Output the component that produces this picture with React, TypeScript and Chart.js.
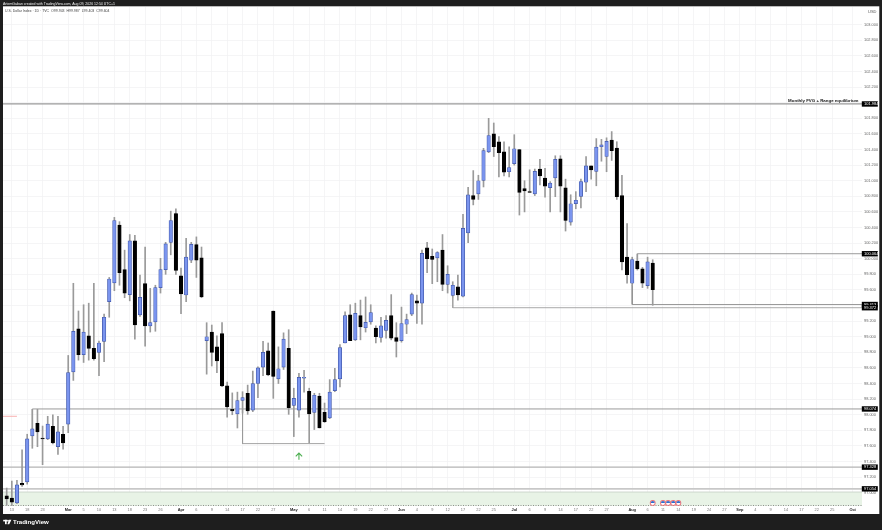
import React, { useEffect, useRef } from "react";
import { Chart, registerables } from "chart.js";

Chart.register(...registerables);

const open = [96.96,96.93,96.87,97.12,97.14,97.73,97.89,97.70,97.69,97.85,97.59,97.75,97.88,98.55,99.10,98.77,99.01,98.85,98.80,98.94,99.45,99.69,100.43,99.86,99.54,100.23,99.28,99.68,99.14,99.19,99.63,99.86,100.21,100.58,99.78,99.535,99.98,100.18,100.01,98.95,99.06,98.87,99.04,98.37,98.07,98.01,98.185,98.275,98.06,98.40,98.61,98.82,99.33,98.46,98.61,98.85,98.12,98.06,98.47,98.30,98.03,98.24,98.03,97.96,98.31,98.46,98.92,99.28,98.96,99.27,99.115,99.19,99.11,98.99,99.08,99.27,98.99,98.95,99.16,99.29,99.46,99.43,100.14,100.03,100.01,100.11,99.67,99.53,99.64,99.52,100.33,100.81,100.83,101.005,101.37,101.60,101.50,101.37,101.115,101.22,101.40,100.90,100.86,100.83,101.15,101.035,100.91,101.035,101.28,100.91,100.47,100.705,100.80,100.98,101.19,101.12,101.435,101.31,101.52,101.42,100.81,100.02,99.685,99.97,99.87,99.655,99.943];
const high = [97.06,97.15,97.16,97.55,97.75,98.07,98.07,97.855,97.98,98.00,97.98,97.85,98.76,99.685,99.33,99.41,99.43,99.685,98.945,99.29,99.76,100.53,100.475,100.11,100.31,100.30,99.79,100.15,99.62,99.66,100.005,100.21,100.61,100.64,99.88,100.26,100.21,100.28,100.15,99.18,99.15,99.01,99.18,98.42,98.28,98.29,98.295,98.38,98.56,98.615,98.94,98.92,99.33,98.87,99.05,99.09,98.34,98.53,98.57,98.34,98.275,98.275,98.15,98.45,98.595,98.90,99.32,99.41,99.43,99.47,99.51,99.41,99.14,99.25,99.27,99.54,99.18,99.38,99.29,99.56,99.535,100.11,100.21,100.125,100.09,100.31,99.91,99.705,99.79,100.57,100.915,101.13,101.07,101.415,101.80,101.74,101.565,101.50,101.435,101.59,101.40,101.00,101.14,101.15,101.275,101.16,100.99,101.32,101.32,101.02,100.82,100.86,101.02,101.31,101.19,101.54,101.53,101.55,101.63,101.50,101.07,100.45,100.02,100.06,99.89,100.02,99.987];
const low = [96.84,96.83,96.86,97.08,97.11,97.57,97.59,97.36,97.68,97.625,97.49,97.56,97.77,98.44,98.70,98.67,98.70,98.70,98.50,98.68,99.25,99.59,99.66,99.50,99.46,98.97,99.26,98.88,99.06,99.07,99.56,99.80,100.05,99.80,99.295,99.45,99.95,99.76,99.50,98.52,98.625,98.54,98.36,97.97,98.00,97.83,98.02,98.005,98.04,98.22,98.50,98.50,98.21,98.40,98.58,98.005,97.72,97.97,98.29,97.64,97.81,97.83,97.90,97.95,98.295,98.355,98.92,98.95,98.95,98.96,99.06,99.16,98.92,98.93,98.98,98.96,98.74,98.93,99.04,99.27,99.17,99.16,99.82,99.68,99.705,99.59,99.56,99.51,99.47,99.51,100.205,100.69,100.76,100.92,101.36,101.31,101.05,101.06,101.05,101.20,100.56,100.60,100.85,100.81,100.945,100.79,100.60,100.795,100.60,100.355,100.43,100.64,100.65,100.86,101.02,100.935,101.25,101.115,101.26,100.76,99.855,99.685,99.66,99.855,99.63,99.62,99.403];
const close = [96.92,96.88,97.10,97.10,97.69,97.82,97.78,97.69,97.88,97.64,97.78,97.64,98.54,99.07,98.77,99.06,98.85,98.72,98.92,99.25,99.74,100.49,99.82,99.56,100.23,99.15,99.505,99.14,99.18,99.63,99.86,100.19,100.49,99.85,99.55,100.02,100.185,99.98,99.51,99.00,98.80,98.69,98.37,98.10,98.05,98.18,98.22,98.05,98.40,98.60,98.80,98.51,98.49,98.59,98.97,98.09,98.21,98.48,98.48,98.01,98.25,97.83,97.91,98.29,98.45,98.86,99.27,98.95,99.30,99.125,99.185,99.31,99.00,99.14,99.21,98.98,98.94,99.17,99.22,99.54,99.43,100.07,100.00,99.99,100.08,99.67,99.80,99.66,99.535,100.39,100.82,100.76,101.00,101.385,101.58,101.435,101.36,101.11,101.17,101.41,100.85,100.87,100.85,101.12,101.06,100.93,100.97,101.275,100.93,100.49,100.705,100.75,100.99,101.19,101.14,101.43,101.46,101.505,101.385,100.795,99.96,99.795,99.99,99.87,99.685,99.96,99.604];

const xTickIndex = [1,4,7,12,15,18,21,24,27,30,34,37,40,43,46,49,52,56,59,62,65,68,71,74,77,80,83,86,89,92,95,99,102,105,108,111,114,117,122,125,128,131,134,137,140,143,146,149,152,155,158,161,165];
const xTickLabel = ["13","18","23","Mar","5","10","13","18","23","26","Apr","6","9","14","17","22","27","May","6","11","14","19","22","27","Jun","4","9","12","17","22","25","Jul","6","9","14","17","22","27","Aug","6","11","14","19","24","27","Sep","4","9","14","17","22","25","Oct"];
const monthNames = ["Mar","Apr","May","Jun","Jul","Aug","Sep","Oct"];

const yTickValues = [103,102.8,102.6,102.4,102.2,102,101.8,101.6,101.4,101.2,101,100.8,100.6,100.4,100.2,100,99.8,99.6,99.4,99.2,99,98.8,98.6,98.4,98.2,98,97.8,97.6,97.4,97.2,97];
const hiddenYLabels = [102, 99.4];

const tagValues = [101.984,100.064,99.413,99.372,98.074,97.328,97.05];
const tagLabels = ["101.984","100.064","99.413","99.372","98.074","97.328","97.054"];

const xMin = -0.72;
const xMax = 166.82;
const yMin = 96.83;
const yMax = 103.227;

const zoneTop = 97.009;
const zoneBottom = 96.835;
const pinkLevel = 97.98;
const arrowPoint = { x: 57, y: 97.47 };
const flagIndex = [126, 128, 129, 130, 131];
const flagPrice = 96.87;

const titleText = "ArtemGaban created with TradingView.com, Aug 09, 2026 12:54 UTC+1";
const legendText = "U.S. Dollar Index · 1D · TVC  O99.943  H99.987  L99.403  C99.604";
const noteText = "Monthly FVG + Range equilibrium";
const FONT = '"Liberation Sans", Arial, sans-serif';
const FRAME = "#1e1e1e";

const wicks = high.map((h, i) => ({ x: i, y: [low[i], h] }));
const bodies = open.map((o, i) => ({ x: i, y: [Math.min(o, close[i]), Math.max(o, close[i])] }));
const isUp = close.map((c, i) => c >= open[i]);

const level = (data: { x: number; y: number }[], color: string, width: number, order = 3, extra: object = {}) => ({
  type: "line" as const,
  data,
  borderColor: color,
  borderWidth: width,
  pointRadius: 0,
  tension: 0,
  order,
  ...extra,
});

const framePlugin = {
  id: "frame",
  afterDraw(chart: any) {
    const { ctx, scales } = chart;
    const x = scales.x;
    const y = scales.y;
    ctx.save();

    // Right axis caption and price tags
    ctx.font = `4px ${FONT}`;
    ctx.fillStyle = "#555";
    ctx.textBaseline = "middle";
    ctx.textAlign = "left";
    ctx.fillText("USD", 868, 11.7);
    tagValues.forEach((v, i) => {
      const py = y.getPixelForValue(v);
      ctx.fillStyle = "#000";
      ctx.fillRect(861.8, py - 2.7, 16, 5.4);
      ctx.fillStyle = "#fff";
      ctx.fillText(tagLabels[i], 864, py + 0.2);
    });

    // Note above the top level
    ctx.fillStyle = "#111";
    ctx.font = `bold 4.4px ${FONT}`;
    ctx.textAlign = "right";
    ctx.fillText(noteText, 858.5, y.getPixelForValue(tagValues[0]) - 3.4);

    // Legend
    ctx.textAlign = "left";
    ctx.fillStyle = "#444";
    ctx.font = `3.5px ${FONT}`;
    ctx.fillText(legendText, 5, 11);

    // Green arrow
    const ax = x.getPixelForValue(arrowPoint.x);
    const ay = y.getPixelForValue(arrowPoint.y);
    ctx.strokeStyle = "#4caf50";
    ctx.lineWidth = 1.1;
    ctx.beginPath();
    ctx.moveTo(ax, ay + 3.6);
    ctx.lineTo(ax, ay - 3);
    ctx.moveTo(ax - 3.2, ay + 0.2);
    ctx.lineTo(ax, ay - 3);
    ctx.lineTo(ax + 3.2, ay + 0.2);
    ctx.stroke();

    // Event flags
    flagIndex.forEach((i) => {
      const fx = x.getPixelForValue(i);
      const fy = y.getPixelForValue(flagPrice);
      ctx.fillStyle = "#ea7078";
      ctx.beginPath();
      ctx.arc(fx, fy, 2.9, 0, Math.PI * 2);
      ctx.fill();
      ctx.fillStyle = "#fff";
      ctx.beginPath();
      ctx.arc(fx, fy, 2, 0, Math.PI * 2);
      ctx.fill();
      ctx.fillStyle = "#2f6fd0";
      ctx.beginPath();
      ctx.arc(fx, fy, 2, Math.PI, Math.PI * 2);
      ctx.fill();
    });

    // Dark frame
    ctx.fillStyle = FRAME;
    ctx.fillRect(0, 0, 882, 6.3);
    ctx.fillRect(0, 0, 3, 530);
    ctx.fillRect(879.3, 0, 3, 530);
    ctx.fillRect(0, 514, 882, 16);

    ctx.fillStyle = "#f2f2f2";
    ctx.font = `3.5px ${FONT}`;
    ctx.textAlign = "left";
    ctx.fillText(titleText, 3, 3.6);

    // Brand mark
    ctx.fillStyle = "#fff";
    ctx.fillRect(3.2, 519.8, 4, 1.6);
    ctx.fillRect(5, 519.8, 1.7, 4.4);
    ctx.beginPath();
    ctx.arc(8, 520.7, 0.9, 0, Math.PI * 2);
    ctx.fill();
    ctx.beginPath();
    ctx.moveTo(9, 519.8);
    ctx.lineTo(11.4, 519.8);
    ctx.lineTo(9.2, 524.2);
    ctx.lineTo(7.4, 524.2);
    ctx.closePath();
    ctx.fill();
    ctx.font = `bold 6.1px ${FONT}`;
    ctx.fillText("TradingView", 13, 522.2);
    ctx.restore();
  },
};

export default function App() {
  const ref = useRef<HTMLCanvasElement>(null);

  useEffect(() => {
    if (!ref.current) return;
    const chart = new Chart(ref.current, {
      type: "bar",
      data: {
        datasets: [
          {
            data: bodies as any,
            grouped: false,
            barThickness: 3.5,
            backgroundColor: isUp.map((u) => (u ? "#7a94ee" : "#000000")),
            borderColor: isUp.map((u) => (u ? "#3f56a8" : "#000000")),
            borderWidth: 0.7,
            borderSkipped: false,
            order: 1,
          },
          {
            data: wicks as any,
            grouped: false,
            barThickness: 1,
            backgroundColor: "#9a9a9a",
            borderWidth: 0,
            order: 2,
          },
          level([{ x: xMin, y: tagValues[0] }, { x: xMax, y: tagValues[0] }], "#9a9a9a", 1.2),
          level([{ x: 123, y: 99.97 }, { x: 123, y: tagValues[1] }, { x: xMax, y: tagValues[1] }], "#8e8e8e", 0.9),
          level([{ x: 122, y: 99.66 }, { x: 122, y: tagValues[2] }, { x: xMax, y: tagValues[2] }], "#8e8e8e", 0.9),
          level([{ x: 87, y: 99.51 }, { x: 87, y: tagValues[3] }, { x: xMax, y: tagValues[3] }], "#a0a0a0", 0.9),
          level([{ x: 5, y: 97.73 }, { x: 5, y: tagValues[4] }, { x: xMax, y: tagValues[4] }], "#8e8e8e", 0.9),
          level([{ x: 46, y: 98.185 }, { x: 46, y: 97.63 }, { x: 62, y: 97.63 }], "#9a9a9a", 0.9),
          level([{ x: xMin, y: tagValues[5] }, { x: xMax, y: tagValues[5] }], "#b4b4b4", 1.2),
          level([{ x: xMin, y: tagValues[6] }, { x: xMax, y: tagValues[6] }], "#c8c8c8", 1.8),
          level([{ x: xMin, y: pinkLevel }, { x: 2, y: pinkLevel }], "#f7a8a8", 0.9),
          level([{ x: xMin, y: zoneTop }, { x: xMax, y: zoneTop }], "#c9d2c9", 0.9, 5, {
            fill: "start",
            backgroundColor: "#e8f3e6",
          }),
          level([{ x: xMin, y: zoneBottom }, { x: xMax, y: zoneBottom }], "#777777", 0.9, 4, {
            borderDash: [1, 1.5],
          }),
        ] as any,
      },
      options: {
        responsive: false,
        animation: false,
        devicePixelRatio: 1,
        layout: { padding: { left: 3, right: 3, top: 7, bottom: 16 } },
        plugins: { legend: { display: false }, tooltip: { enabled: false }, title: { display: false } },
        scales: {
          x: {
            type: "linear",
            offset: false,
            min: xMin,
            max: xMax,
            grid: { offset: false, color: "#f2f2f4", lineWidth: 0.8, drawTicks: false },
            border: { display: false },
            afterBuildTicks: (s: any) => {
              s.ticks = xTickIndex.map((value) => ({ value }));
            },
            afterFit: (s: any) => {
              s.height = 8;
            },
            ticks: {
              autoSkip: false,
              maxRotation: 0,
              padding: 2,
              color: (c: any) => (monthNames.includes(xTickLabel[c.index]) ? "#222" : "#777"),
              font: (c: any) => ({
                size: 3.9,
                family: FONT,
                weight: monthNames.includes(xTickLabel[c.index]) ? "bold" : "normal",
              }),
              callback: (_v: any, i: number) => xTickLabel[i],
            },
          },
          y: {
            type: "linear",
            position: "right",
            min: yMin,
            max: yMax,
            grid: { color: "#f2f2f4", lineWidth: 0.8, drawTicks: false },
            border: { display: false },
            afterBuildTicks: (s: any) => {
              s.ticks = yTickValues.map((value) => ({ value }));
            },
            afterFit: (s: any) => {
              s.width = 17;
            },
            ticks: {
              autoSkip: false,
              padding: 2,
              color: "#666",
              font: { size: 3.9, family: FONT },
              callback: (_v: any, i: number) =>
                hiddenYLabels.includes(yTickValues[i]) ? "" : yTickValues[i].toFixed(3),
            },
          },
        },
      } as any,
      plugins: [framePlugin],
    });
    return () => chart.destroy();
  }, []);

  return (
    <div style={{ position: "fixed", inset: 0, overflow: "hidden", background: "#fff" }}>
      <canvas ref={ref} width={882} height={530} style={{ display: "block" }} />
    </div>
  );
}
